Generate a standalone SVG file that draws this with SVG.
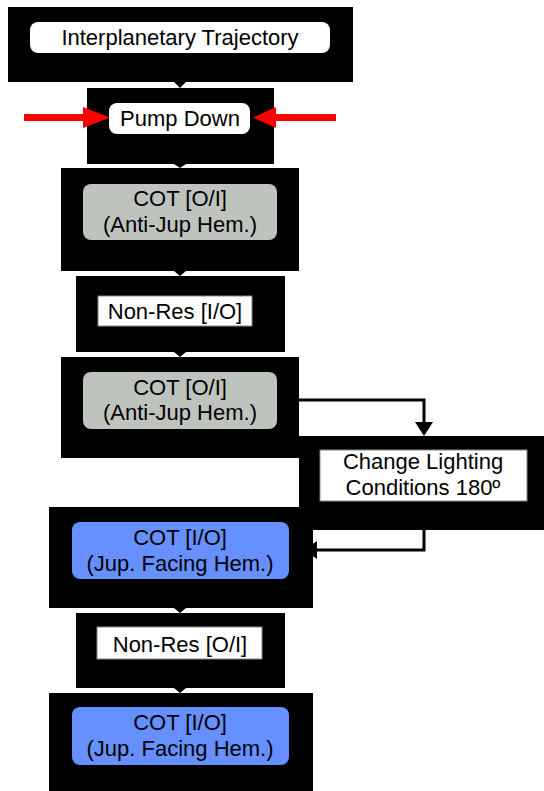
<svg xmlns="http://www.w3.org/2000/svg" width="544" height="791" viewBox="0 0 544 791">
<style>
.frame{fill:#000}
.white{fill:#fff}
.sq{fill:#fff;stroke:#888;stroke-width:1}
.gray{fill:#bec3be}
.blue{fill:#6690ff}
text{font-family:"Liberation Sans",Arial,sans-serif;font-size:22px;fill:#000;text-anchor:middle}
.ln{fill:none;stroke:#000;stroke-width:3}
.red{fill:none;stroke:#ff0000;stroke-width:7}
</style>
<rect width="544" height="791" fill="#fff"/>
<g id="n1"><rect class="frame" x="8" y="7" width="345" height="75"/><rect class="white" x="30" y="22" width="300" height="31" rx="8"/><text x="180" y="45">Interplanetary Trajectory</text></g>
<g id="n2"><rect class="frame" x="87" y="88" width="187" height="76"/><rect class="white" x="109" y="103" width="141" height="31" rx="8"/><text x="180" y="126">Pump Down</text></g>
<g id="n3"><rect class="frame" x="61" y="168" width="238" height="103"/><rect class="gray" x="83" y="184" width="194" height="56" rx="8"/><text x="180" y="206">COT [O/I]</text><text x="180" y="232">(Anti-Jup Hem.)</text></g>
<g id="n4"><rect class="frame" x="76" y="276" width="209" height="76"/><rect class="sq" x="98" y="296" width="154" height="30"/><text x="175" y="318.5">Non-Res [I/O]</text></g>
<g id="n5"><rect class="frame" x="61" y="357" width="238" height="101"/><rect class="gray" x="83" y="372" width="194" height="57" rx="8"/><text x="180" y="395">COT [O/I]</text><text x="180" y="420">(Anti-Jup Hem.)</text></g>
<g id="n6"><rect class="frame" x="299" y="436" width="245" height="94"/><rect class="sq" x="320" y="450" width="207" height="51"/><text x="423" y="469">Change Lighting</text><text x="423" y="495">Conditions 180º</text></g>
<g id="n7"><rect class="frame" x="49" y="507" width="264" height="101"/><rect class="blue" x="72" y="522" width="217" height="57" rx="8"/><text x="180" y="545">COT [I/O]</text><text x="180" y="570.5">(Jup. Facing Hem.)</text></g>
<g id="n8"><rect class="frame" x="76" y="613" width="209" height="75"/><rect class="sq" x="97" y="627" width="165" height="32"/><text x="180" y="652">Non-Res [O/I]</text></g>
<g id="n9"><rect class="frame" x="49" y="693" width="264" height="98"/><rect class="blue" x="72" y="707" width="217" height="58" rx="8"/><text x="180" y="730">COT [I/O]</text><text x="180" y="756">(Jup. Facing Hem.)</text></g>
<g id="connectors">
<polygon points="174,82 186,82 180,88" fill="#000"/>
<polygon points="174,164 186,164 180,168" fill="#000"/>
<polygon points="174,271 186,271 180,276" fill="#000"/>
<polygon points="174,352 186,352 180,357" fill="#000"/>
<polygon points="174,608 186,608 180,613" fill="#000"/>
<polygon points="174,688 186,688 180,693" fill="#000"/>
<polyline class="ln" points="299,400 424,400 424,423"/>
<polygon points="415,422 433,422 424,436" fill="#000"/>
<polyline class="ln" points="424,530 424,550 316,550"/>
<polygon points="317,541 317,559 304,550" fill="#000"/>
<line class="red" x1="24" y1="117.5" x2="86" y2="117.5"/>
<polygon points="83,107 110,117.5 83,128" fill="#ff0000"/>
<line class="red" x1="336" y1="117.5" x2="273" y2="117.5"/>
<polygon points="276,107 253,117.5 276,128" fill="#ff0000"/>
</g>
</svg>
